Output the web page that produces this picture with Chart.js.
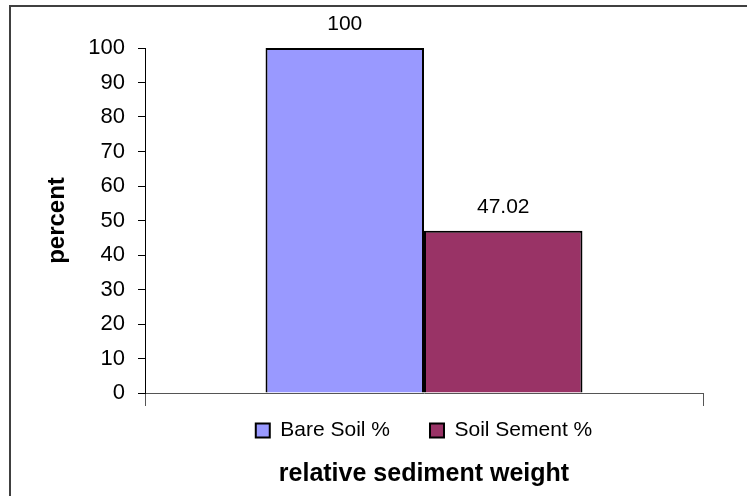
<!DOCTYPE html>
<html>
<head>
<meta charset="utf-8">
<script src="https://cdn.jsdelivr.net/npm/chart.js@4"></script>
<style>
  html, body { margin: 0; padding: 0; background: #fff; }
  #wrap { position: relative; width: 747px; height: 496px; overflow: hidden; }
  #frame {
    position: absolute; left: 9px; top: 5px; width: 760px; height: 520px;
    border-top: 2px solid #404040; border-left: 2px solid #404040;
    pointer-events: none;
  }
</style>
</head>
<body>
<div id="wrap">
  <canvas id="sedimentChart"></canvas>
  <div id="frame"></div>
</div>
<script>
const categories = ['relative sediment weight'];
const seriesNames = ['Bare Soil %', 'Soil Sement %'];
const seriesValues = [[100], [47.02]];
const seriesColors = ['#9999FF', '#993366'];
const yTicks = { min: 0, max: 100, step: 10 };

const FONT = '"Liberation Sans", Arial, sans-serif';

// value printed above each bar
const barValueLabels = {
  id: 'barValueLabels',
  afterDatasetsDraw(chart) {
    const ctx = chart.ctx;
    ctx.save();
    ctx.font = '21px ' + FONT;
    ctx.fillStyle = '#000';
    ctx.textAlign = 'center';
    ctx.textBaseline = 'middle';
    chart.data.datasets.forEach((ds, i) => {
      chart.getDatasetMeta(i).data.forEach((bar, j) => {
        ctx.fillText(String(ds.data[j]), bar.x, bar.y - 24);
      });
    });
    ctx.restore();
  },
};

function buildChart() {
  const ctx = document.getElementById('sedimentChart');
  new Chart(ctx, {
    type: 'bar',
    data: {
      labels: categories,
      datasets: seriesNames.map((name, i) => ({
        label: name,
        data: seriesValues[i],
        backgroundColor: seriesColors[i],
        borderColor: '#000',
        borderWidth: 2,
        barPercentage: 1,
        categoryPercentage: 0.568,
      })),
    },
    options: {
      responsive: true,
      maintainAspectRatio: false,
      animation: false,
      layout: { padding: { top: 48, right: 44, bottom: 0, left: 0 } },
      plugins: {
        tooltip: { enabled: false },
        legend: {
          position: 'bottom',
          fullSize: false,
          labels: {
            boxWidth: 14,
            boxHeight: 14,
            padding: 40,
            color: '#000',
            font: { family: FONT, size: 21 },
          },
        },
        title: {
          display: true,
          text: 'relative sediment weight',
          position: 'bottom',
          fullSize: false,
          color: '#000',
          font: { family: FONT, size: 25, weight: 'bold' },
          padding: { top: 8, bottom: -6 },
        },
      },
      scales: {
        x: {
          offset: true,
          ticks: { display: false },
          grid: { drawOnChartArea: false, tickLength: 13, color: '#555', offset: true },
          border: { color: '#555' },
          // legend sits right under the axis, so pull it up
          afterFit: (s) => { s.height = -13; },
        },
        y: {
          min: yTicks.min,
          max: yTicks.max,
          ticks: { stepSize: yTicks.step, color: '#000', padding: 13, font: { family: FONT, size: 22 } },
          grid: { drawOnChartArea: false, tickLength: 7, color: '#000' },
          border: { color: '#000' },
          title: {
            display: true,
            text: 'percent',
            color: '#000',
            font: { family: FONT, size: 24, weight: 'bold' },
            padding: { top: 43, bottom: 0 },
          },
          afterFit: (s) => { s.width = 145; },
        },
      },
    },
    plugins: [barValueLabels],
  });
}

document.addEventListener('DOMContentLoaded', buildChart);
</script>
</body>
</html>
